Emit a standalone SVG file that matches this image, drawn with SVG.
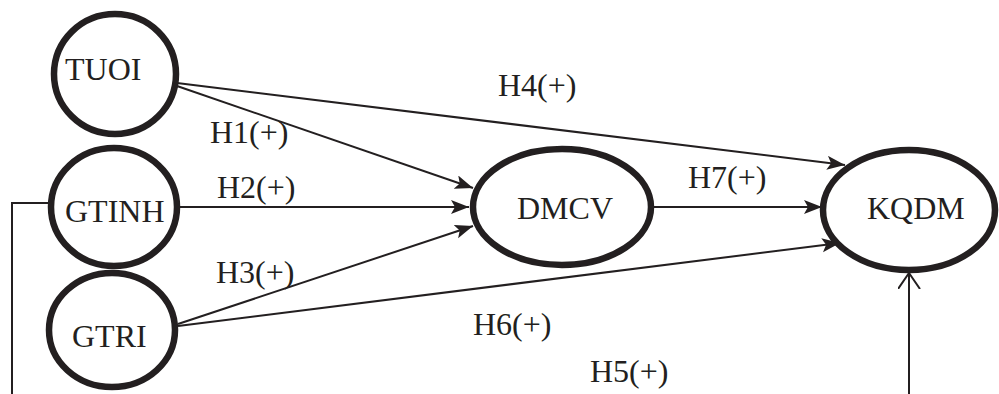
<svg xmlns="http://www.w3.org/2000/svg" width="999" height="394" viewBox="0 0 999 394">
<style>
.node{fill:#fff;stroke:#231f20;stroke-width:6.5}
.lbl{font-family:"Liberation Serif","Times New Roman",serif;font-size:32px;fill:#231f20}
.edge{stroke:#231f20;stroke-width:2;fill:none}
</style>
<defs>
<marker id="ah" markerUnits="userSpaceOnUse" markerWidth="20" markerHeight="16" refX="18" refY="7" orient="auto">
<path d="M0,0 L18,7 L0,14 L4,7 Z" fill="#231f20"/>
</marker>
<marker id="oa" markerUnits="userSpaceOnUse" markerWidth="20" markerHeight="26" refX="16" refY="11" orient="auto">
<path d="M0,0 L16,11 L0,22" fill="none" stroke="#231f20" stroke-width="2"/>
</marker>
</defs>
<rect width="999" height="394" fill="#fff"/>
<g id="connectors">
<line class="edge" x1="177" y1="83" x2="845" y2="165" marker-end="url(#ah)"/>
<line class="edge" x1="177" y1="86" x2="473" y2="188" marker-end="url(#ah)"/>
<line class="edge" x1="178" y1="207" x2="469" y2="207" marker-end="url(#ah)"/>
<line class="edge" x1="178" y1="324" x2="473" y2="226" marker-end="url(#ah)"/>
<line class="edge" x1="178" y1="326" x2="840" y2="243" marker-end="url(#ah)"/>
<line class="edge" x1="653" y1="207" x2="822" y2="207" marker-end="url(#ah)"/>
<line class="edge" x1="909" y1="394" x2="909" y2="273" marker-end="url(#oa)"/>
<polyline class="edge" points="12,394 12,203 50,203"/>
<text class="lbl" x="498" y="96">H4(+)</text>
<text class="lbl" x="210" y="143">H1(+)</text>
<text class="lbl" x="217" y="198">H2(+)</text>
<text class="lbl" x="216" y="283">H3(+)</text>
<text class="lbl" x="688" y="188">H7(+)</text>
<text class="lbl" x="473" y="335">H6(+)</text>
<text class="lbl" x="590" y="382">H5(+)</text>
</g>
<g id="TUOI">
<ellipse class="node" cx="115" cy="74" rx="61" ry="60"/>
<text class="lbl" x="65" y="80">TUOI</text>
</g>
<g id="GTINH">
<ellipse class="node" cx="114" cy="207" rx="63" ry="59"/>
<text class="lbl" x="65" y="222">GTINH</text>
</g>
<g id="GTRI">
<ellipse class="node" cx="112" cy="330" rx="63" ry="57"/>
<text class="lbl" x="72" y="347">GTRI</text>
</g>
<g id="DMCV">
<ellipse class="node" cx="562" cy="207" rx="89" ry="58"/>
<text class="lbl" x="517" y="219">DMCV</text>
</g>
<g id="KQDM">
<ellipse class="node" cx="909" cy="210" rx="86" ry="60"/>
<text class="lbl" x="867" y="219">KQDM</text>
</g>
</svg>
